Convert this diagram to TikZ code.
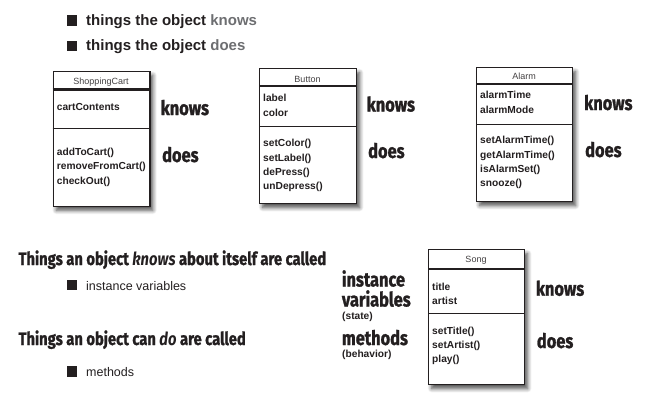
\documentclass[tikz,border=0pt]{standalone}
\usepackage{fontspec}
\setmainfont{Liberation Sans}
\newfontfamily\handfont[FakeStretch=0.82, BoldFeatures={FakeBold=1.2}]{Fira Sans}
\usetikzlibrary{shadows.blur}
\definecolor{ink}{HTML}{231F20}
\definecolor{softgray}{HTML}{6D6E71}

\begin{document}
\begin{tikzpicture}[x=1pt, y=-1pt,
    every node/.style={inner sep=0pt, text=ink},
    bullet/.style={fill=ink, minimum size=10.5pt},
    topitem/.style={anchor=base west, font=\fontsize{15}{18}\selectfont\bfseries},
    item/.style={anchor=base west, font=\fontsize{12.5}{15}\selectfont},
    classbox/.style={draw=ink, line width=1.2pt, fill=white, anchor=north west,
        blur shadow={shadow xshift=3pt, shadow yshift=-4pt, shadow blur radius=4pt,
        shadow blur steps=8, shadow opacity=70}},
    headline/.style={draw=ink, line width=2.4pt},
    divline/.style={draw=ink, line width=1pt},
    classname/.style={anchor=base, font=\fontsize{9}{11}\selectfont, text=ink!85},
    member/.style={anchor=base west, font=\fontsize{10.2}{12}\selectfont\bfseries},
    hand/.style={anchor=base west, font=\handfont\bfseries\fontsize{20}{22}\selectfont},
    sentence/.style={anchor=base west, font=\handfont\bfseries\fontsize{18}{20}\selectfont},
    note/.style={anchor=base west, font=\fontsize{10.2}{12}\selectfont\bfseries}]
    \useasboundingbox (0,0) rectangle (660,404);

    % Heading
    \node[bullet] (b1) at (72,20.7) {};
    \node[topitem] (knowsitem) at (86,25.5) {things the object \textcolor{softgray}{knows}};
    \node[bullet] (b2) at (72,45.8) {};
    \node[topitem] (doesitem) at (86,50.5) {things the object \textcolor{softgray}{does}};

    % ShoppingCart
    \node[classbox, minimum width=96.6pt, minimum height=135pt] (cart) at (52.7,70.7) {};
    \node[classname] (cartname) at (101,84) {ShoppingCart};
    \draw[headline] (52.7,89.3) -- (149.3,89.3);
    \draw[divline] (52.7,128.7) -- (149.3,128.7);
    \node[member] (cartvar) at (56.7,110.7) {cartContents};
    \foreach \m [count=\i from 0] in {addToCart(), removeFromCart(), checkOut()}
        \node[member] (cartop\i) at (56.7,155+14.7*\i) {\m};
    \node[hand] (cartknows) at (160.5,115) {knows};
    \node[hand] (cartdoes) at (162,162) {does};

    % Button
    \node[classbox, minimum width=97pt, minimum height=135pt] (button) at (259,68) {};
    \node[classname] (buttonname) at (307.5,82.7) {Button};
    \draw[headline] (259,86) -- (356,86);
    \draw[divline] (259,126) -- (356,126);
    \foreach \m [count=\i from 0] in {label, color}
        \node[member] (buttonvar\i) at (263,101.7+14.3*\i) {\m};
    \foreach \m [count=\i from 0] in {setColor(), setLabel(), dePress(), unDepress()}
        \node[member] (buttonop\i) at (263,146.7+14.3*\i) {\m};
    \node[hand] (buttonknows) at (366.5,111.5) {knows};
    \node[hand] (buttondoes) at (368,158) {does};

    % Alarm
    \node[classbox, minimum width=96pt, minimum height=134pt] (alarm) at (476,67) {};
    \node[classname] (alarmname) at (524,79.5) {Alarm};
    \draw[headline] (476,84) -- (572,84);
    \draw[divline] (476,124) -- (572,124);
    \foreach \m [count=\i from 0] in {alarmTime, alarmMode}
        \node[member] (alarmvar\i) at (480,98.8+14.8*\i) {\m};
    \foreach \m [count=\i from 0] in {setAlarmTime(), getAlarmTime(), isAlarmSet(), snooze()}
        \node[member] (alarmop\i) at (480,143.8+14.3*\i) {\m};
    \node[hand] (alarmknows) at (584,110) {knows};
    \node[hand] (alarmdoes) at (585,157) {does};

    % Definitions
    \node[sentence] (knowstext) at (18.3,265) {Things an object \textit{knows} about itself are called};
    \node[bullet] (b3) at (72,285) {};
    \node[item] (ivars) at (86,290) {instance variables};
    \node[sentence] (dotext) at (18.3,345) {Things an object can \textit{do} are called};
    \node[bullet] (b4) at (72,371.7) {};
    \node[item] (meths) at (86,376.7) {methods};

    % Song
    \node[classbox, minimum width=96pt, minimum height=135pt] (song) at (428,249) {};
    \node[classname] (songname) at (476,262.5) {Song};
    \draw[headline] (428,269) -- (524,269);
    \draw[divline] (428,313) -- (524,313);
    \foreach \m [count=\i from 0] in {title, artist}
        \node[member] (songvar\i) at (432,290+14.5*\i) {\m};
    \foreach \m [count=\i from 0] in {setTitle(), setArtist(), play()}
        \node[member] (songop\i) at (432,334+14*\i) {\m};
    \node[hand] (songknows) at (535.7,295.7) {knows};
    \node[hand] (songdoes) at (536.7,348) {does};
    \node[hand] (instlabel) at (341.7,286.5) {instance};
    \node[hand] (varlabel) at (341.7,306.5) {variables};
    \node[note] (statelabel) at (342,319) {(state)};
    \node[hand] (methlabel) at (341.7,345) {methods};
    \node[note] (behavlabel) at (342,357.5) {(behavior)};
\end{tikzpicture}
\end{document}
